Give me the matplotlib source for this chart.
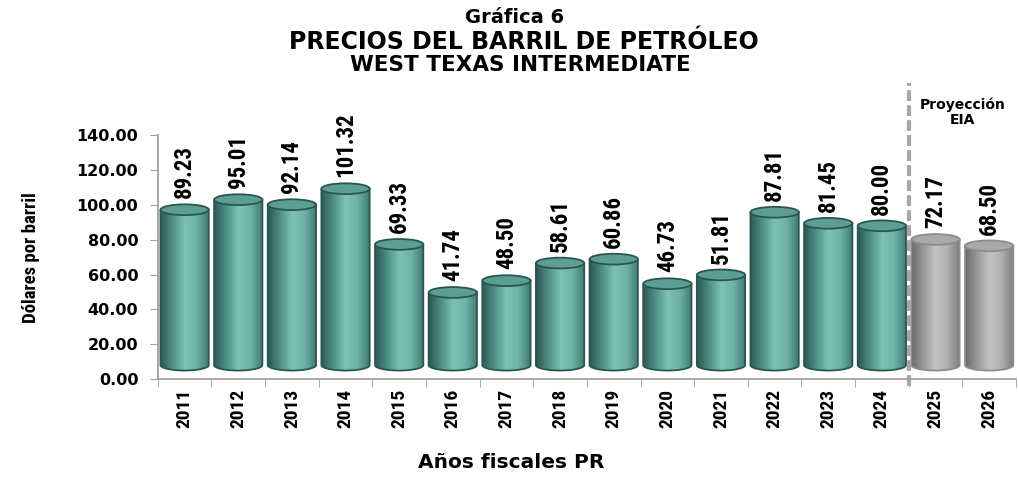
import matplotlib.pyplot as plt
import numpy as np
from matplotlib.path import Path
from matplotlib.patches import PathPatch, Ellipse
from matplotlib.colors import LinearSegmentedColormap

# datos
years = ['2011', '2012', '2013', '2014', '2015', '2016', '2017', '2018',
         '2019', '2020', '2021', '2022', '2023', '2024', '2025', '2026']
prices = [89.23, 95.01, 92.14, 101.32, 69.33, 41.74, 48.50, 58.61,
          60.86, 46.73, 51.81, 87.81, 81.45, 80.00, 72.17, 68.50]
projected = [False] * 14 + [True] * 2
yticks = [0, 20, 40, 60, 80, 100, 120, 140]

narrow = ['Roboto Condensed', 'DejaVu Sans']
wide = ['DejaVu Sans']

teal_cmap = LinearSegmentedColormap.from_list(
    'teal', ['#2d5a55', '#4f8f84', '#7cc3b4', '#6eb3a5', '#3f7a71'])
gray_cmap = LinearSegmentedColormap.from_list(
    'gris', ['#6a6a6a', '#9a9a9a', '#c4c4c4', '#b0b0b0', '#7d7d7d'])

fig = plt.figure(figsize=(10.18, 4.78), dpi=100)
ax = fig.add_axes([0.155, 0.207, 0.843, 0.510])
ax.set_xlim(-0.5, len(years) - 0.5)
ax.set_ylim(0, 140)

w = 0.9        # ancho del cilindro
lift = 8       # desplazamiento 3D
eh = 6.2       # alto de la elipse
grad = np.linspace(0, 1, 64).reshape(1, -1)
t = np.linspace(np.pi, 2 * np.pi, 40)

for i, (v, p) in enumerate(zip(prices, projected)):
    x0, x1 = i - w / 2, i + w / 2
    bot, top = lift, v + lift
    cmap = gray_cmap if p else teal_cmap
    edge = '#8c8c8c' if p else '#2a5651'
    topc = '#a9a9a9' if p else '#5c9e92'
    arc_x = i + (w / 2) * np.cos(t)
    arc_y = bot + (eh / 2) * np.sin(t)
    verts = [(x0, top)] + list(zip(arc_x, arc_y)) + [(x1, top), (x0, top)]
    path = Path(verts)
    body = PathPatch(path, facecolor='none', edgecolor=edge, lw=1.3, zorder=3)
    ax.add_patch(body)
    im = ax.imshow(grad, cmap=cmap, extent=(x0, x1, bot - eh, top),
                   aspect='auto', zorder=2)
    im.set_clip_path(body)
    ax.add_patch(Ellipse((i, top), w, eh, facecolor=topc, edgecolor=edge,
                         lw=1.3, zorder=4))
    ax.text(i, v + 14.5, f'{v:.2f}', rotation=90, ha='center', va='bottom',
            fontsize=16.5, fontweight='bold', family=narrow, zorder=5,
            clip_on=False)

# línea de proyección
ax.plot([13.5, 13.5], [-4, 170], ls=(0, (2.6, 1)), color='#a6a6a6', lw=3,
        clip_on=False, zorder=6)
ax.text(14.5, 153, 'Proyección\nEIA', ha='center', va='center',
        fontsize=10, fontweight='bold', family=wide, linespacing=1.1)

ax.set_yticks(yticks)
ax.set_yticklabels([f'{y:.2f}' for y in yticks], fontsize=11.5,
                   fontweight='bold', family=wide)
ax.set_xticks(np.arange(len(years)))
ax.set_xticklabels(years, rotation=90, fontsize=14, fontweight='bold',
                   family=narrow)
ax.set_xticks(np.arange(len(years) + 1) - 0.5, minor=True)
ax.tick_params(axis='x', which='major', length=0, pad=7)
ax.tick_params(axis='x', which='minor', length=6, color='#a0a0a0', direction='out')
ax.tick_params(axis='y', length=6, color='#a0a0a0', pad=8)
for s in ['top', 'right']:
    ax.spines[s].set_visible(False)
for s in ['left', 'bottom']:
    ax.spines[s].set_color('#a0a0a0')
    ax.spines[s].set_linewidth(1.3)

ax.set_ylabel('Dólares por barril', fontsize=13.5, fontweight='bold',
              family=narrow, labelpad=26)
fig.text(0.502, 0.02, 'Años fiscales PR', ha='center', fontsize=14.5,
         fontweight='bold', family=wide)

fig.text(0.505, 0.964, 'Gráfica 6', ha='center', va='center', fontsize=14,
         fontweight='bold', family=wide)
fig.text(0.515, 0.912, 'PRECIOS DEL BARRIL DE PETRÓLEO', ha='center',
         va='center', fontsize=17, fontweight='bold', family=wide)
fig.text(0.511, 0.864, 'WEST TEXAS INTERMEDIATE', ha='center', va='center',
         fontsize=15.5, fontweight='bold', family=wide)

fig.savefig('out.png', dpi=100)
